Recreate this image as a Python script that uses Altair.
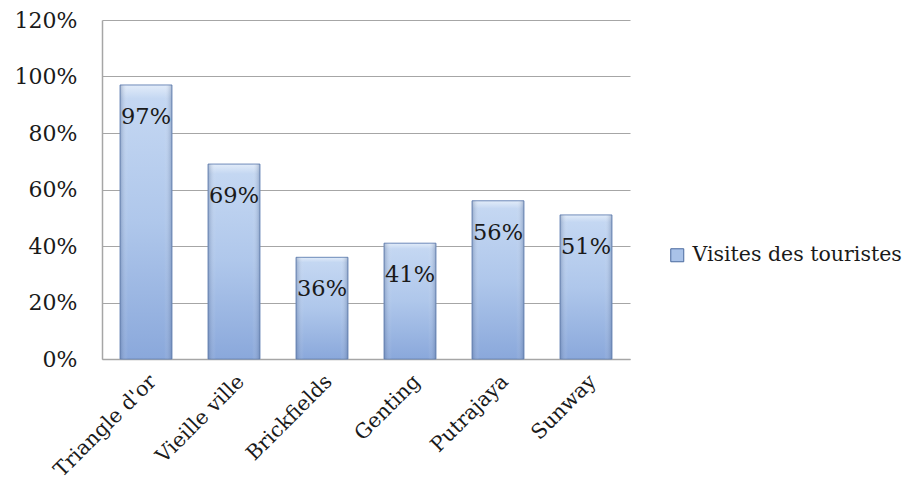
import altair as alt
import pandas as pd

places = ["Triangle d'or", "Vieille ville", "Brickfields", "Genting", "Putrajaya", "Sunway"]
values = [0.97, 0.69, 0.36, 0.41, 0.56, 0.51]
series = ["Visites des touristes"] * len(places)
y_ticks = [0, 0.2, 0.4, 0.6, 0.8, 1.0, 1.2]

df = pd.DataFrame({"place": places, "value": values, "series": series})

FONT = "DejaVu Serif"
FS = 22
GRID = "#a6a6a6"

x_enc = alt.X(
    "place:N", sort=places,
    scale=alt.Scale(paddingInner=0.41, paddingOuter=0.205),
    axis=alt.Axis(title=None, labelAngle=-45, labelFont=FONT, labelFontSize=20.5,
                  labelColor="#1a1a1a", ticks=False, domain=True, domainColor=GRID,
                  domainWidth=1.5, grid=False, labelPadding=12, labelAlign="right",
                  labelBaseline="top", labelLimit=0),
)
y_enc = alt.Y(
    "value:Q",
    scale=alt.Scale(domain=[0, 1.2], nice=False),
    axis=alt.Axis(title=None, format=".0%", values=y_ticks, labelFont=FONT, labelFontSize=FS,
                  labelColor="#1a1a1a", ticks=False, domain=True, domainColor=GRID,
                  domainWidth=1.5, grid=True, gridColor=GRID, gridWidth=1.2, labelPadding=25),
)

base = alt.Chart(df).encode(x=x_enc, y=y_enc)

legend_bars = base.mark_bar().encode(
    color=alt.Color(
        "series:N",
        scale=alt.Scale(range=["#a9c2e8"]),
        legend=alt.Legend(
            title=None, orient="none", legendX=565, legendY=225,
            symbolType="square", symbolSize=169, symbolStrokeColor="#4a6a9e",
            symbolStrokeWidth=1, symbolFillColor="#a9c2e8",
            labelFont=FONT, labelFontSize=20.5, labelColor="#1a1a1a", labelOffset=5,
            labelLimit=0,
        ),
    )
)

vert_grad = alt.LinearGradient(
    gradient="linear",
    stops=[
        alt.GradientStop(offset=0, color="#e2ecf9"),
        alt.GradientStop(offset=0.05, color="#c4d7f2"),
        alt.GradientStop(offset=0.5, color="#afc7eb"),
        alt.GradientStop(offset=1, color="#8aa8db"),
    ],
    x1=0, x2=0, y1=0, y2=1,
)
bars = base.mark_bar(color=vert_grad, stroke="#6f8bba", strokeWidth=1)

edge_grad = alt.LinearGradient(
    gradient="linear",
    stops=[
        alt.GradientStop(offset=0, color="rgba(60,85,130,0.35)"),
        alt.GradientStop(offset=0.15, color="rgba(255,255,255,0.0)"),
        alt.GradientStop(offset=0.85, color="rgba(255,255,255,0.0)"),
        alt.GradientStop(offset=1, color="rgba(60,85,130,0.35)"),
    ],
    x1=0, x2=1, y1=0, y2=0,
)
edges = base.mark_bar(color=edge_grad)

labels = base.mark_text(
    font=FONT, fontSize=22.5, color="#1a1a1a", baseline="alphabetic", dy=39
).encode(text=alt.Text("value:Q", format=".0%"))

chart = (
    alt.layer(legend_bars, bars, edges, labels)
    .properties(
        width=528, height=339,
        autosize=alt.AutoSizeParams(type="none"),
        padding={"left": 94, "top": 12, "right": 284, "bottom": 126},
    )
    .configure(background="white", view=alt.ViewConfig(stroke=None))
)

chart.save("out.html", embed_options={"renderer": "svg", "actions": False})
